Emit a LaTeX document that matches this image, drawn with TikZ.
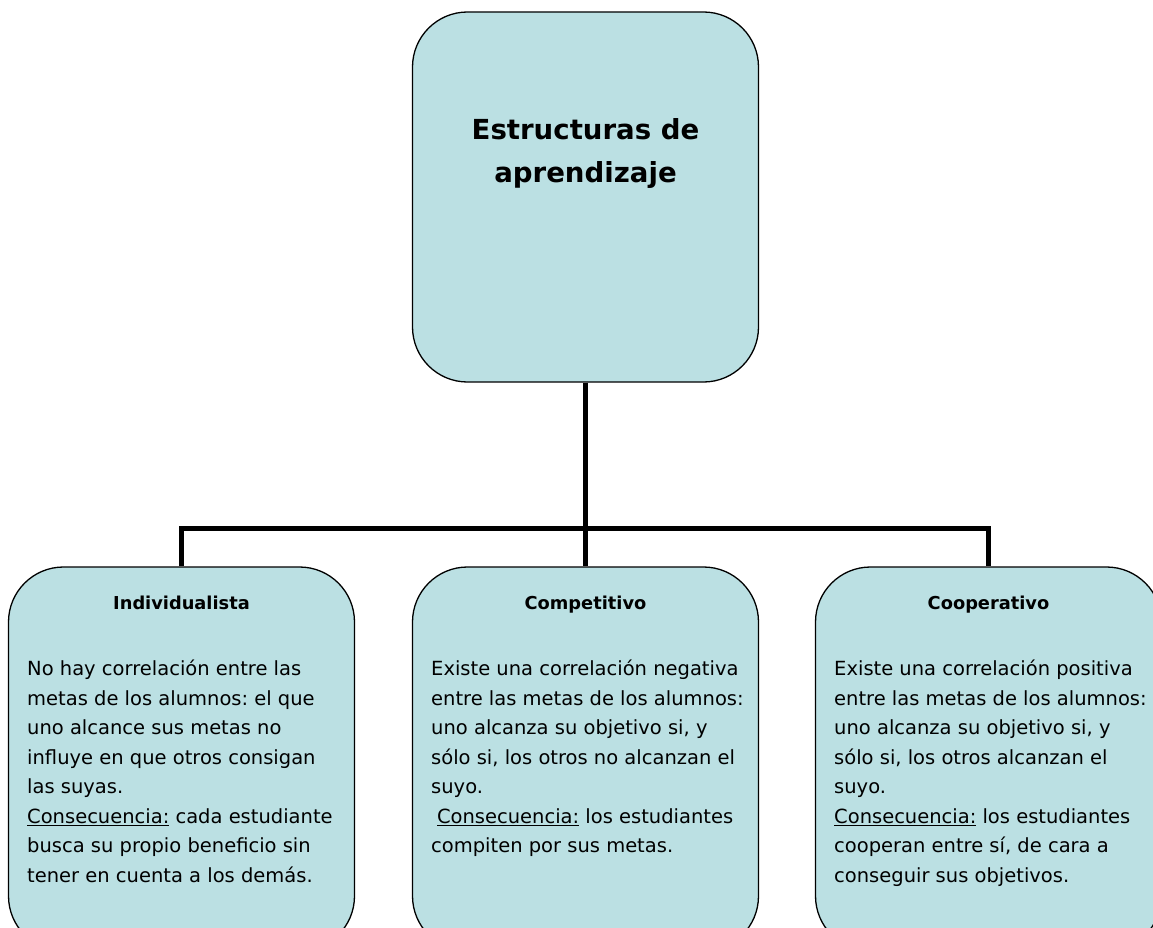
\documentclass[tikz,border=0pt]{standalone}
\usepackage{fontspec}
\setmainfont{DejaVu Sans}
\definecolor{est.bg}{RGB}{187,224,227}
\frenchspacing

\begin{document}
\begin{tikzpicture}[x=1pt,y=-1pt]
  \tikzset{rbox/.append style={draw=black, line width=1.3pt, fill=est.bg,
      rounded corners=55pt, inner sep=0, minimum width=346pt},
    conn/.append style={line width=5pt},
    head/.append style={font=\bfseries\fontsize{17.8}{22}\selectfont,
      inner sep=0, anchor=base},
    body/.append style={font=\fontsize{19.5}{29.5}\selectfont, align=left,
      inner sep=0, anchor=north west}}
  \useasboundingbox (0,0) rectangle (1153,928);
  \clip (0,0) rectangle (1153,928);

  \node[rbox, minimum height=370pt] (top) at (585.5,197) {};
  \node[rbox, minimum height=384pt] (ind) at (181.5,759) {};
  \node[rbox, minimum height=384pt] (com) at (585.5,759) {};
  \node[rbox, minimum height=384pt] (coo) at (988.5,759) {};

  \node[font=\bfseries\fontsize{27.6}{43}\selectfont, align=center,
    inner sep=0] (ttl) at (585.5,153) {Estructuras de\\aprendizaje};

  \node[head] (indh) at (181.5,609) {Individualista};
  \node[head] (comh) at (585.5,609) {Competitivo};
  \node[head] (cooh) at (988.5,609) {Cooperativo};

  \node[body] (indt) at (27,660) {No hay correlación entre las\\
    metas de los alumnos: el que\\
    uno alcance sus metas no\\
    influye en que otros consigan\\
    las suyas.\\
    \underline{Consecuencia:} cada estudiante\\
    busca su propio beneficio sin\\
    tener en cuenta a los demás.};
  \node[body] (comt) at (431,660) {Existe una correlación negativa\\
    entre las metas de los alumnos:\\
    uno alcanza su objetivo si, y\\
    sólo si, los otros no alcanzan el\\
    suyo.\\
    \hspace*{0.3em}\underline{Consecuencia:} los estudiantes\\
    compiten por sus metas.};
  \node[body] (coot) at (834,660) {Existe una correlación positiva\\
    entre las metas de los alumnos:\\
    uno alcanza su objetivo si, y\\
    sólo si, los otros alcanzan el\\
    suyo.\\
    \underline{Consecuencia:} los estudiantes\\
    cooperan entre sí, de cara a\\
    conseguir sus objetivos.};

  \coordinate (bus) at (585.5,528);
  \draw[conn] (top.south) -- (com.north);
  \draw[conn] (ind.north) |- (bus) -| (coo.north);
\end{tikzpicture}
\end{document}
